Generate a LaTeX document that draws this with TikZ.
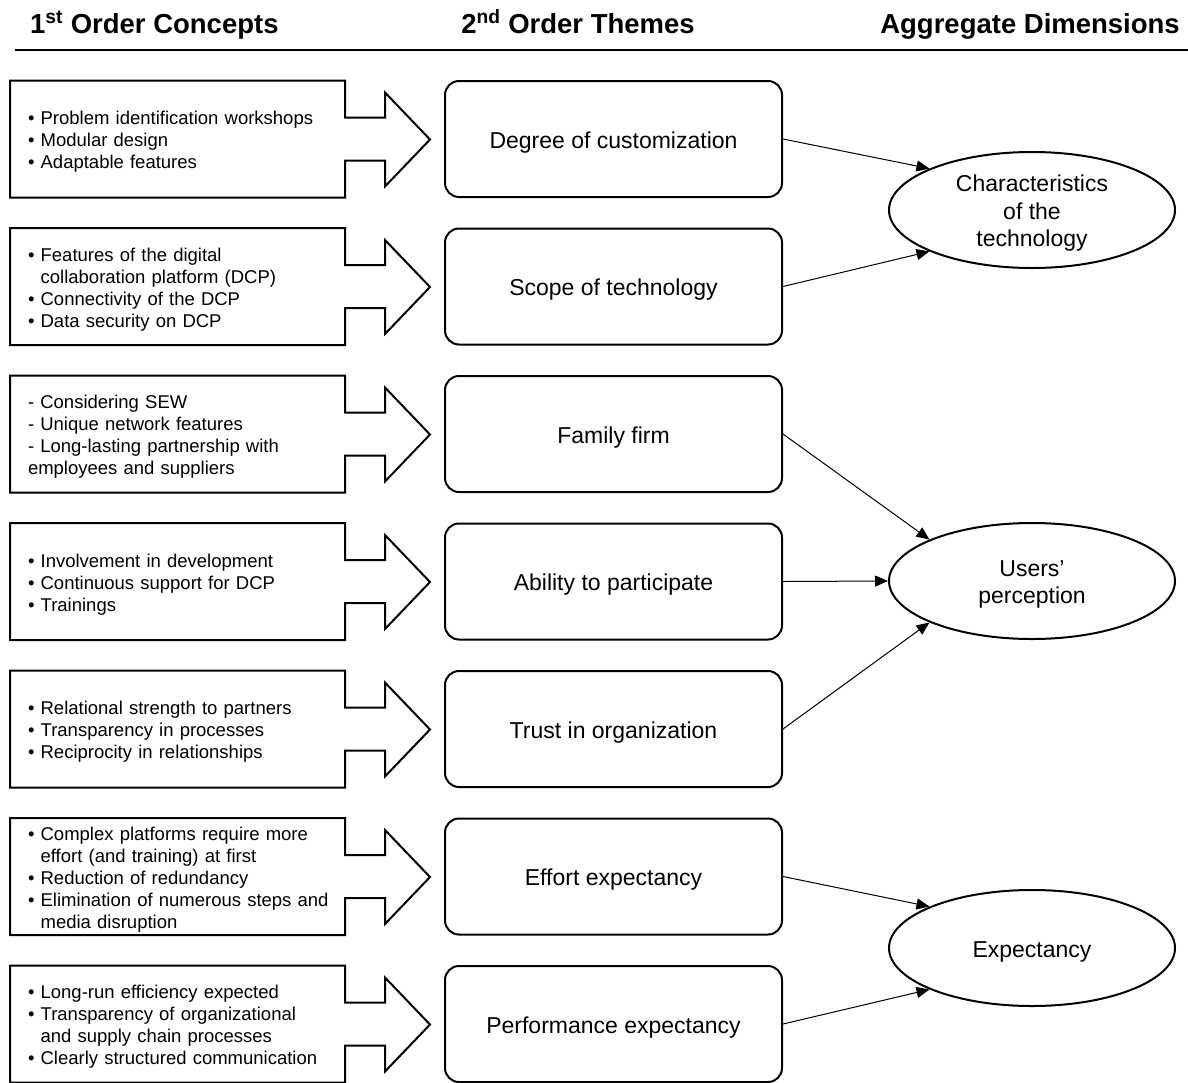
\documentclass[tikz,border=0pt]{standalone}
\usepackage{fontspec}
\setmainfont{Liberation Sans}
\usepackage{tikz}
\usetikzlibrary{arrows.meta,positioning,shapes.geometric}
\newcommand{\cbul}{\textbullet\ }
\newcommand{\cind}{\phantom{\textbullet\ }}
\newcommand{\dimtop}{\rule{0pt}{23pt}}

\begin{document}
\begin{tikzpicture}[x=1pt, y=-1pt, node distance=30.5pt,
  concept/.style={anchor=west, outer sep=0pt, inner xsep=18pt, inner ysep=0pt, text width=305pt, minimum height=117pt, align=left, font=\fontsize{18.5}{22}\selectfont, execute at begin node={\rule{0pt}{19.5pt}}},
  outline/.style={draw, line width=2pt, line join=miter},
  theme/.style={draw, line width=2pt, rounded corners=14pt, minimum width=337pt, minimum height=116pt, text height=18pt, text depth=0pt, font=\fontsize{23}{27.5}\selectfont},
  dimension/.style={draw, ellipse, line width=2pt, minimum width=286pt, minimum height=116pt, inner xsep=0pt, inner ysep=-2.3pt, align=center, font=\fontsize{23}{27.5}\selectfont},
  head/.style={inner sep=0pt, font=\fontsize{27.5}{33}\selectfont\bfseries},
  link/.style={-{Triangle[length=13pt,width=11pt]}, line width=1pt}]
\useasboundingbox (0,0) rectangle (1188,1082);

\node[head, anchor=base west] (h1) at (30,33) {1\textsuperscript{st} Order Concepts};
\node[head, anchor=base] (h2) at (578,33) {2\textsuperscript{nd} Order Themes};
\node[head, anchor=base east] (h3) at (1180,33) {Aggregate Dimensions};
\draw[line width=1.5pt] (15,50) -- (1188,50);

\node[concept] (c1) at (10,139) {\cbul Problem identification workshops\\ \cbul Modular design\\ \cbul Adaptable features};
\node[concept, below=of c1] (c2) {\cbul Features of the digital\\ \cind collaboration platform (DCP)\\ \cbul Connectivity of the DCP\\ \cbul Data security on DCP};
\node[concept, below=of c2] (c3) {- Considering SEW\\ - Unique network features\\ - Long-lasting partnership with\\ employees and suppliers};
\node[concept, below=of c3] (c4) {\cbul Involvement in development\\ \cbul Continuous support for DCP\\ \cbul Trainings};
\node[concept, below=of c4] (c5) {\cbul Relational strength to partners\\ \cbul Transparency in processes\\ \cbul Reciprocity in relationships};
\node[concept, below=of c5] (c6) {\cbul Complex platforms require more\\ \cind effort (and training) at first\\ \cbul Reduction of redundancy\\ \cbul Elimination of numerous steps and\\ \cind media disruption};
\node[concept, below=of c6] (c7) {\cbul Long-run efficiency expected\\ \cbul Transparency of organizational\\ \cind and supply chain processes\\ \cbul Clearly structured communication};

\foreach \c in {c1,c2,c3,c4,c5,c6,c7}
  \draw[outline] (\c.north west) -- ++(335,0) -- ++(0,37) -- ++(40,0) -- ++(0,-25) -- ++(45,47) -- ++(-45,47) -- ++(0,-26) -- ++(-40,0) -- ++(0,37) -- (\c.south west) -- cycle;

\node[theme, right=93pt of c1] (t1) {Degree of customization};
\node[theme, right=93pt of c2] (t2) {Scope of technology};
\node[theme, right=93pt of c3] (t3) {Family firm};
\node[theme, right=93pt of c4] (t4) {Ability to participate};
\node[theme, right=93pt of c5] (t5) {Trust in organization};
\node[theme, right=93pt of c6] (t6) {Effort expectancy};
\node[theme, right=93pt of c7] (t7) {Performance expectancy};

\node[dimension] (tech) at (1032,210) {\dimtop Characteristics\\of the\\technology};
\node[dimension] (users) at (1032,581) {\dimtop Users’\\perception};
\node[dimension] (expect) at (1032,948) {\dimtop Expectancy};

\draw[link] (t1.east) -- (tech.158);
\draw[link] (t2.east) -- (tech.202);
\draw[link] (t3.east) -- (users.158);
\draw[link] (t4.east) -- (users.west);
\draw[link] (t5.east) -- (users.202);
\draw[link] (t6.east) -- (expect.158);
\draw[link] (t7.east) -- (expect.202);
\end{tikzpicture}
\end{document}
